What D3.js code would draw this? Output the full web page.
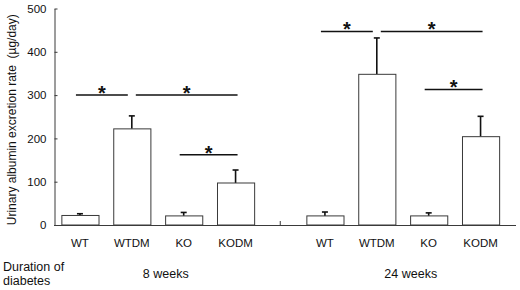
<!DOCTYPE html>
<html>
<head>
<meta charset="utf-8">
<script src="https://cdn.jsdelivr.net/npm/d3@7"></script>
<style>
  html, body { margin: 0; padding: 0; background: #fff; }
  svg { display: block; font-family: "Liberation Sans", Arial, sans-serif; }
</style>
</head>
<body>
<div id="container"></div>
<script>
const width = 520, height = 290;

// Data — albumin excretion (µg/day), mean + SE
const groups = ["8 weeks", "24 weeks"];
const categories = ["WT", "WTDM", "KO", "KODM"];
const means8 = [22, 222, 21, 97];
const errs8 = [4, 30, 8, 30];
const means24 = [21, 348, 21, 204];
const errs24 = [9, 84, 7, 47];
const yTicks = [0, 100, 200, 300, 400, 500];

// Significance brackets: [from, to, level]
const sig8 = [["WT", "WTDM", 300], ["WTDM", "KODM", 300], ["KO", "KODM", 162]];
const sig24 = [["WT", "WTDM", 447], ["WTDM", "KODM", 447], ["KO", "KODM", 313]];

const ink = "#111";
const line = "#3a3a3a";

const svg = d3.select("#container").append("svg")
  .attr("width", width).attr("height", height);

// Scales
const y = d3.scaleLinear().domain([0, 500]).range([225, 8.5]);
const x0 = d3.scaleBand().domain(groups).range([54, 506.5])
  .paddingInner(0.153).paddingOuter(0);
const x1 = d3.scaleBand().domain(categories).range([0, x0.bandwidth()])
  .paddingInner(0.284).paddingOuter(0.142);
const cx = (g, c) => x0(g) + x1(c) + x1.bandwidth() / 2;

const bars = [];
categories.forEach((c, i) => {
  bars.push({ group: groups[0], cat: c, mean: means8[i], err: errs8[i] });
  bars.push({ group: groups[1], cat: c, mean: means24[i], err: errs24[i] });
});

// Error bars (upper only), drawn first so the bar outline sits over them
const eb = svg.append("g").attr("stroke", ink).attr("stroke-width", 1.6);
eb.selectAll("line.stem").data(bars).join("line")
  .attr("class", "stem")
  .attr("x1", (d) => cx(d.group, d.cat)).attr("x2", (d) => cx(d.group, d.cat))
  .attr("y1", (d) => y(d.mean)).attr("y2", (d) => y(d.mean + d.err));
eb.selectAll("line.cap").data(bars).join("line")
  .attr("class", "cap")
  .attr("x1", (d) => cx(d.group, d.cat) - 3).attr("x2", (d) => cx(d.group, d.cat) + 3)
  .attr("y1", (d) => y(d.mean + d.err)).attr("y2", (d) => y(d.mean + d.err));

// Bars
svg.append("g").selectAll("rect").data(bars).join("rect")
  .attr("x", (d) => x0(d.group) + x1(d.cat) + 0.5)
  .attr("y", (d) => y(d.mean))
  .attr("width", x1.bandwidth())
  .attr("height", (d) => y(0) - y(d.mean))
  .attr("fill", "#fff")
  .attr("stroke", line)
  .attr("stroke-width", 1);

// Y axis — small inward ticks
const yAxis = svg.append("g")
  .attr("transform", `translate(54.5,0)`)
  .call(d3.axisLeft(y).tickValues(yTicks).tickSizeInner(-3).tickSizeOuter(0).tickPadding(8));
yAxis.select(".domain").attr("stroke", line);
yAxis.selectAll(".tick line").attr("stroke", line);
yAxis.selectAll("text").attr("fill", ink).style("font-size", "11.5px")
  .style("font-family", "'Liberation Sans', Arial, sans-serif");

// X baseline with a small divider tick between the two durations
const xEnd = 516;
svg.append("line")
  .attr("x1", 54).attr("x2", xEnd)
  .attr("y1", y(0) + 0.5).attr("y2", y(0) + 0.5)
  .attr("stroke", line);
const divX = (x0(groups[0]) + x0.bandwidth() + x0(groups[1])) / 2;
svg.append("line")
  .attr("x1", divX).attr("x2", divX)
  .attr("y1", y(0)).attr("y2", y(0) - 4)
  .attr("stroke", line);

// Category labels
svg.append("g").selectAll("text").data(bars).join("text")
  .attr("x", (d) => cx(d.group, d.cat))
  .attr("y", 247)
  .attr("text-anchor", "middle")
  .attr("fill", ink)
  .style("font-size", "11.5px")
  .text((d) => d.cat);

// Duration labels
svg.append("g").selectAll("text").data(groups).join("text")
  .attr("x", (g) => x0(g) + x0.bandwidth() / 2 + 8)
  .attr("y", 278)
  .attr("text-anchor", "middle")
  .attr("fill", ink)
  .style("font-size", "12.5px")
  .text((g) => g);

svg.append("text")
  .attr("x", 3).attr("y", 271)
  .attr("fill", ink).style("font-size", "12.5px")
  .text("Duration of");
svg.append("text")
  .attr("x", 3).attr("y", 285)
  .attr("fill", ink).style("font-size", "12.5px")
  .text("diabetes");

// Y title
svg.append("text")
  .attr("transform", `translate(16,${y(250) + 3}) rotate(-90)`)
  .attr("text-anchor", "middle")
  .attr("fill", ink)
  .style("font-size", "12px")
  .attr("xml:space", "preserve")
  .style("white-space", "pre")
  .text("Urinary albumin excretion rate  (µg/day)");

// Significance brackets
const sigs = [
  ...sig8.map((s) => ({ group: groups[0], from: s[0], to: s[1], level: s[2] })),
  ...sig24.map((s) => ({ group: groups[1], from: s[0], to: s[1], level: s[2] })),
];
const sx1 = (d) => cx(d.group, d.from) + (d.from === "WTDM" ? 4 : -4);
const sx2 = (d) => cx(d.group, d.to) + (d.to === "WTDM" ? -4 : 2);
const sg = svg.append("g");
sg.selectAll("line").data(sigs).join("line")
  .attr("x1", sx1).attr("x2", sx2)
  .attr("y1", (d) => y(d.level)).attr("y2", (d) => y(d.level))
  .attr("stroke", ink).attr("stroke-width", 1.5);
sg.selectAll("text").data(sigs).join("text")
  .attr("x", (d) => (sx1(d) + sx2(d)) / 2)
  .attr("y", (d) => y(d.level) + 5)
  .attr("text-anchor", "middle")
  .attr("fill", ink)
  .style("font-size", "20px")
  .style("font-weight", "bold")
  .text("*");
</script>
</body>
</html>
